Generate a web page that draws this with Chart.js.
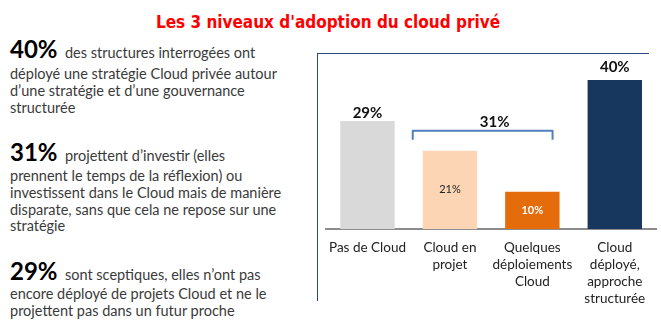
<!DOCTYPE html>
<html><head><meta charset="utf-8">
<script src="https://cdn.jsdelivr.net/npm/chart.js@4/dist/chart.umd.min.js"></script>
<style>
html,body{margin:0;padding:0;background:#fff;width:661px;height:331px;overflow:hidden;position:relative;font-family:Lato,"Open Sans",sans-serif;}
#title{position:absolute;left:0;width:656px;top:12px;text-align:center;color:#ff0000;font-family:"DejaVu Sans Condensed","DejaVu Sans",sans-serif;font-weight:bold;font-size:17px;}
.f{position:absolute;left:10px;white-space:nowrap;font-size:24px;line-height:24px;font-weight:bold;color:#000;}
.f span{font-size:14.5px;font-weight:normal;color:#3a3a3a;}
.r{position:absolute;left:10px;white-space:nowrap;font-size:14.5px;line-height:16.8px;color:#3a3a3a;}
#frame{position:absolute;left:317px;top:53px;width:331px;height:247px;border-left:1px solid #2b4a7a;border-top:1px solid #2b4a7a;}
#wrap{position:absolute;left:318px;top:54px;width:343px;height:277px;}
</style></head><body>
<div id="title">Les 3 niveaux d'adoption du cloud privé</div>
<div class="f" style="top:36.7px">40%<span>&nbsp; des structures interrogées ont</span></div>
<div class="r" style="top:66px">déployé une stratégie Cloud privée autour<br>d’une stratégie et d’une gouvernance<br>structurée</div>
<div class="f" style="top:139.7px">31%<span>&nbsp; projettent d’investir (elles</span></div>
<div class="r" style="top:168px">prennent le temps de la réflexion) ou<br>investissent dans le Cloud mais de manière<br>disparate, sans que cela ne repose sur une<br>stratégie</div>
<div class="f" style="top:258.7px">29%<span>&nbsp; sont sceptiques, elles n’ont pas</span></div>
<div class="r" style="top:286px">encore déployé de projets Cloud et ne le<br>projettent pas dans un futur proche</div>
<div id="frame"></div>
<div id="wrap"><canvas id="c" width="343" height="277"></canvas></div>
<script>
const categories = [["Pas de Cloud"], ["Cloud en", "projet"], ["Quelques", "déploiements", "Cloud"], ["Cloud", "déployé,", "approche", "structurée"]];
const values = [29, 21, 10, 40];
const valueLabels = ["29%", "21%", "10%", "40%"];
const groupLabel = "31%";
const groupMembers = [1, 2];

const colors = ["#d9d9d9", "#fcd5b5", "#e46c0a", "#17375e"];

const labelPlugin = {
  id: 'labels',
  afterDatasetsDraw(chart) {
    const ctx = chart.ctx;
    const meta = chart.getDatasetMeta(0);
    const styles = [
      {font: "bold 15px Lato", color: "#111", inside: false, off: 8},
      {font: "11px Lato", color: "#222", inside: true},
      {font: "bold 11px Lato", color: "#fff", inside: true},
      {font: "bold 15px Lato", color: "#111", inside: false, off: 12.5}
    ];
    ctx.save();
    ctx.textAlign = "center";
    ctx.textBaseline = "middle";
    meta.data.forEach((bar, i) => {
      const s = styles[i];
      ctx.font = s.font;
      ctx.fillStyle = s.color;
      const y = s.inside ? (bar.y + bar.base) / 2 : bar.y - s.off;
      ctx.fillText(valueLabels[i], bar.x, y);
    });
    // bracket over group
    const a = meta.data[groupMembers[0]], b = meta.data[groupMembers[1]];
    const x1 = a.x - a.width / 2 - 10, x2 = b.x + b.width / 2 - 7;
    const yTop = Math.min(a.y, b.y) - 20;
    ctx.strokeStyle = "#4f81bd";
    ctx.lineWidth = 2;
    ctx.lineJoin = "round";
    ctx.beginPath();
    ctx.moveTo(x1, yTop + 9);
    ctx.lineTo(x1, yTop);
    ctx.lineTo(x2, yTop);
    ctx.lineTo(x2, yTop + 9);
    ctx.stroke();
    ctx.font = "bold 15px Lato";
    ctx.fillStyle = "#111";
    ctx.fillText(groupLabel, (x1 + x2) / 2 + 12, yTop - 9);
    ctx.restore();
  }
};

new Chart(document.getElementById('c'), {
  type: 'bar',
  data: {
    labels: categories,
    datasets: [{data: values, backgroundColor: colors, borderWidth: 0, barPercentage: 0.66, categoryPercentage: 1}]
  },
  options: {
    responsive: false,
    animation: false,
    events: [],
    layout: {padding: {left: 8, right: 5, top: 0, bottom: 0}},
    plugins: {legend: {display: false}, tooltip: {enabled: false}},
    scales: {
      y: {display: false, min: 0, max: 47},
      x: {
        grid: {display: false, drawTicks: false},
        border: {display: true, color: "#8c8c8c", width: 2},
        ticks: {color: "#222", font: {family: "Lato", size: 13.5, lineHeight: 1.26}, padding: 10, maxRotation: 0, autoSkip: false},
        afterFit(scale) { scale.height = 102; }
      }
    }
  },
  plugins: [labelPlugin]
});
</script>
</body></html>
